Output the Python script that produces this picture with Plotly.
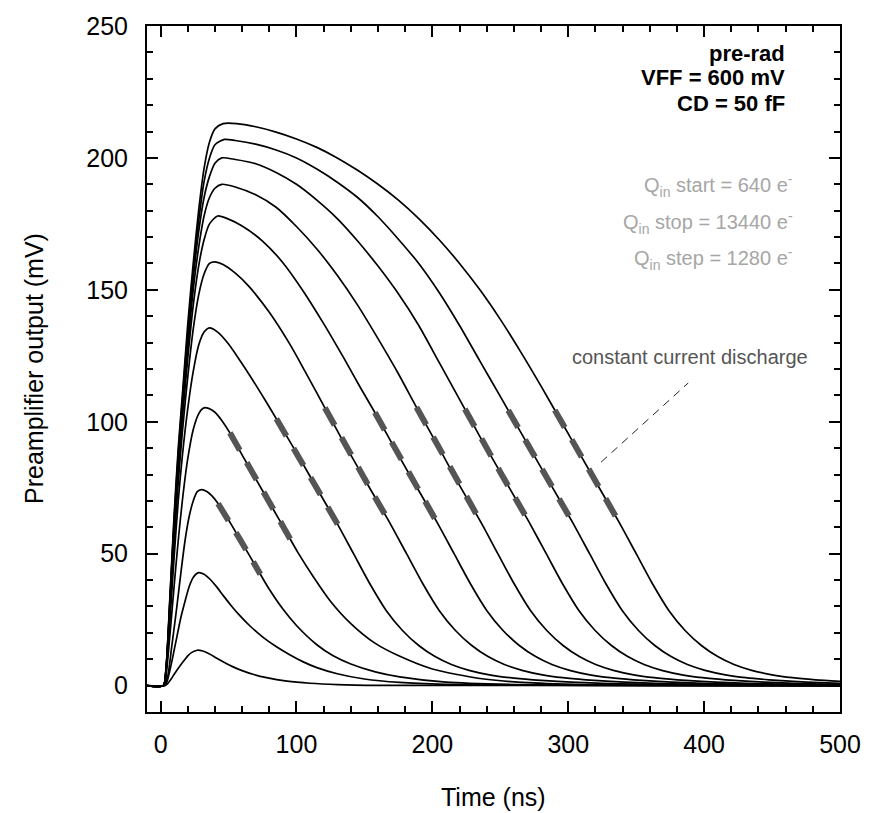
import numpy as np
import plotly.graph_objects as go

# Injected charge per curve (electrons)
charges = [640, 1920, 3200, 4480, 5760, 7040, 8320, 9600, 10880, 12160, 13440]

# Waveforms: time (ns) and preamplifier output (mV)
c1_t = [-10, 3, 5, 8, 10, 12, 15, 18, 20, 23, 27, 31, 36, 41, 47, 53, 60, 68, 78, 93, 110, 130, 160, 500]
c1_v = [0, 0, 0.7, 2.7, 4.3, 5.8, 8, 10, 11.3, 12.6, 13.4, 13.1, 12, 10.5, 8.8, 7.2, 5.7, 4.3, 3, 1.7, 0.9, 0.4, 0.1, 0]

c2_t = [-10, 3, 5, 8, 10, 12, 15, 18, 21, 24, 28, 32, 36, 41, 46, 52, 58, 66, 75, 85, 95, 105, 115, 130, 150, 176, 210, 260, 500]
c2_v = [0, 0, 2, 8.5, 13.5, 18.5, 26, 32, 37.5, 41, 42.8, 42.2, 40.5, 37.6, 34.2, 30.3, 26.7, 22.5, 18.5, 14.8, 11.7, 9, 6.8, 4.5, 2.5, 1.2, 0.5, 0.2, 0]

c3_t = [-10, 2, 5, 8, 10, 12, 15, 18, 21, 24, 27, 30, 34, 38, 42.3, 50, 58, 66, 73.4, 80, 90, 100, 115, 127, 140, 158, 176, 210, 260, 320, 500]
c3_v = [0, 0, 3, 14, 22, 30, 43, 55, 64, 70, 73.5, 74.3, 73.6, 71.8, 69, 62.8, 55.8, 48.8, 42.2, 36.5, 29, 22.8, 15.5, 11.3, 8.2, 5.2, 3.3, 1.3, 0.4, 0.1, 0]

c4_t = [-10, 2, 4, 7, 10, 13, 16, 20, 24, 28, 31, 34, 40, 45, 51, 61, 76, 88.9, 101, 113, 125, 140, 158, 176.5, 200, 235, 270, 320, 500]
c4_v = [0, 0, 4, 20, 38, 55, 70, 86, 97, 103, 105, 105.3, 103.6, 100.5, 95.8, 86.5, 73, 61.5, 50.5, 40.8, 32, 23.5, 16, 11, 6.3, 2.7, 1.1, 0.3, 0]

c5_t = [-10, 2, 4, 7, 10, 13, 16, 20, 24, 28, 32, 36, 42, 50, 60, 70, 78, 87, 102, 117, 129.9, 142, 154, 166, 178, 190, 202, 214, 227, 242, 257, 274, 292, 312, 337, 372, 412, 500]
c5_v = [0, 0, 5, 26, 49, 70, 87, 105, 119, 129, 134, 135.6, 134, 129.5, 122, 114, 107.3, 99.6, 86.5, 73, 61.5, 50, 38.6, 28.5, 20.9, 15.2, 11, 8, 5.8, 4.1, 3, 2.2, 1.6, 1.1, 0.7, 0.4, 0.2, 0]

c6_t = [-10, 2, 4, 7, 10, 13, 16, 20, 24, 28, 32, 36, 40, 46, 55, 65, 80, 95, 106.4, 120.9, 135, 141, 156, 168.9, 181, 193, 205, 217, 229, 241, 253, 266, 281, 296, 313, 331, 351, 376, 411, 451, 500]
c6_v = [0, 0, 5.5, 29, 55, 77, 96, 117, 135, 148, 156, 160, 160.6, 159.6, 156.3, 151.3, 141.5, 129.5, 119, 105.3, 91.9, 86.5, 73, 61.5, 50, 38.6, 28.5, 20.9, 15.2, 11, 8, 5.8, 4.1, 3, 2.2, 1.6, 1.1, 0.7, 0.4, 0.2, 0.1]

c7_t = [-10, 2, 4, 7, 10, 13, 16, 20, 24, 28, 32, 36, 42, 50, 60, 75, 90, 105, 120, 135, 147, 157.7, 176, 191, 203.9, 216, 228, 240, 252, 264, 276, 288, 301, 316, 331, 348, 366, 386, 411, 446, 486, 500]
c7_v = [0, 0, 5.8, 31, 58, 82, 101, 124, 144, 159, 169, 175, 178, 176.8, 174.2, 168.5, 160.3, 149.5, 137.2, 124, 113, 103.5, 86.5, 73, 61.5, 50, 38.6, 28.5, 20.9, 15.2, 11, 8, 5.8, 4.1, 3, 2.2, 1.6, 1.1, 0.7, 0.4, 0.2, 0.15]

c8_t = [-10, 2, 4, 7, 10, 13, 16, 20, 24, 28, 32, 36, 40, 45, 55, 70, 85, 100, 115, 130, 145, 160, 175, 188.3, 205, 220, 236.2, 248.2, 260.2, 272.2, 284.2, 296.2, 308.2, 320.2, 333.2, 348.2, 363.2, 380.2, 398.2, 418.2, 443.2, 478.2, 500]
c8_v = [0, 0, 6, 32, 60, 84, 104, 128, 150, 166, 178, 185, 188.5, 190, 189, 186, 181.3, 174, 165.5, 155.5, 144.2, 131.5, 118.2, 105.5, 90, 75.9, 61.5, 50, 38.6, 28.5, 20.9, 15.2, 11, 8, 5.8, 4.1, 3, 2.2, 1.6, 1.1, 0.7, 0.4, 0.3]

c9_t = [-10, 2, 4, 7, 10, 13, 16, 20, 24, 28, 32, 36, 40, 45, 55, 70, 85, 100, 115, 130, 145, 160, 175, 190, 205, 220, 235, 250, 265, 271.7, 283.8, 295.8, 307.8, 319.8, 331.8, 343.8, 355.8, 368.8, 383.8, 398.8, 415.8, 433.8, 453.8, 478.8, 500]
c9_v = [0, 0, 6.2, 33, 62, 86, 106, 131, 154, 172, 185, 193, 198, 200, 199.4, 197.8, 194.5, 190, 184, 177, 168.5, 159, 148.5, 136.5, 122.5, 108.5, 94.4, 80.9, 67.5, 61.5, 50, 38.6, 28.5, 20.9, 15.2, 11, 8, 5.8, 4.1, 3, 2.2, 1.6, 1.1, 0.7, 0.5]

c10_t = [-10, 2, 4, 7, 10, 13, 16, 20, 24, 28, 32, 36, 40, 47, 55, 70, 85, 100, 115, 130, 145, 160, 175, 190, 205, 220, 235, 250, 265, 280, 295, 303.6, 315.7, 327.7, 339.7, 351.7, 363.7, 375.7, 387.7, 400.7, 415.7, 430.7, 447.7, 465.7, 485.7, 500]
c10_v = [0, 0, 6.4, 34, 63, 88, 108, 134, 157, 176, 191, 200, 205, 207, 206.6, 205.2, 203, 200, 195.8, 190.8, 185, 177.7, 169.2, 160, 149, 136.5, 123, 109.6, 96.1, 82.6, 69.2, 61.5, 50, 38.6, 28.5, 20.9, 15.2, 11, 8, 5.8, 4.1, 3, 2.2, 1.6, 1.1, 0.85]

c11_t = [-10, 2, 4, 7, 10, 13, 16, 20, 24, 28, 32, 36, 40, 46, 56, 70, 85, 100, 115, 130, 145, 160, 175, 190, 205, 220, 235, 250, 265, 280, 295, 310, 325, 337.9, 350, 362, 374, 386, 398, 410, 422, 435, 450, 465, 482, 500]
c11_v = [0, 0, 6.5, 35, 65, 90, 110, 137, 160, 180, 196, 206, 211, 213, 213, 211.8, 209.8, 207.2, 204, 200, 195.3, 190, 184, 177, 169, 160, 150, 138.8, 126.5, 113.5, 100, 86.5, 73, 61.5, 50, 38.6, 28.5, 20.9, 15.2, 11, 8, 5.8, 4.1, 3, 2.2, 1.6]

curves_t = [c1_t, c2_t, c3_t, c4_t, c5_t, c6_t, c7_t, c8_t, c9_t, c10_t, c11_t]
curves_v = [c1_v, c2_v, c3_v, c4_v, c5_v, c6_v, c7_v, c8_v, c9_v, c10_v, c11_v]

# Constant-current discharge highlight: curve index and time span (ns)
ov_curve = [2, 3, 4, 5, 6, 7, 8, 9, 10]
ov_t0 = [42.3, 51, 85.2, 120.9, 157.7, 188.3, 223.9, 255.8, 290.1]
ov_t1 = [73.4, 97.5, 131.9, 168.7, 201.8, 236.2, 271.7, 303.6, 337.9]

# Pointer from label to the discharge slope
pointer_t = [324.2, 388.3]
pointer_v = [84.7, 114.7]

x_ticks = [0, 100, 200, 300, 400, 500]
y_ticks = [0, 50, 100, 150, 200, 250]

FONT = "Liberation Sans, Arial, Helvetica, sans-serif"

fig = go.Figure()

for t, v, q in zip(curves_t, curves_v, charges):
    fig.add_trace(go.Scatter(x=t, y=v, mode="lines", name=f"{q} e-",
                             line=dict(color="black", width=1.7, shape="spline", smoothing=0.7),
                             hoverinfo="skip"))

for ci, t0, t1 in zip(ov_curve, ov_t0, ov_t1):
    t = np.array(curves_t[ci], dtype=float)
    v = np.array(curves_v[ci], dtype=float)
    inside = (t > t0) & (t < t1)
    xs = [t0] + list(t[inside]) + [t1]
    ys = [float(np.interp(t0, t, v))] + list(v[inside]) + [float(np.interp(t1, t, v))]
    fig.add_trace(go.Scatter(x=xs, y=ys, mode="lines",
                             line=dict(color="#555555", width=6, dash="20px,14px"),
                             hoverinfo="skip"))

fig.add_trace(go.Scatter(x=pointer_t, y=pointer_v, mode="lines",
                         line=dict(color="#222222", width=1, dash="8px,6px"), hoverinfo="skip"))

axis_common = dict(
    ticks="inside", ticklen=11, tickwidth=1.5, tickcolor="black",
    showline=True, linewidth=2, linecolor="black", mirror="allticks",
    showgrid=False, zeroline=False,
    tickfont=dict(family=FONT, size=25, color="black"),
)

fig.update_xaxes(range=[-10, 500], tickvals=x_ticks, ticklabelstandoff=9,
                 minor=dict(ticks="inside", ticklen=6, tickwidth=1.5, tickcolor="black",
                            tick0=0, dtick=20, showgrid=False),
                 **axis_common)
fig.update_yaxes(range=[-10, 250], tickvals=y_ticks, ticklabelstandoff=12,
                 minor=dict(ticks="inside", ticklen=6, tickwidth=1.5, tickcolor="black",
                            tick0=0, dtick=10, showgrid=False),
                 **axis_common)

annotations = [
    dict(text="Time (ns)", xref="paper", yref="paper", x=0.5, y=0, yshift=-85,
         xanchor="center", yanchor="middle", showarrow=False,
         font=dict(family=FONT, size=25, color="black")),
    dict(text="Preamplifier output (mV)", xref="paper", yref="paper", x=0, y=0.5, xshift=-113,
         xanchor="center", yanchor="middle", textangle=-90, showarrow=False,
         font=dict(family=FONT, size=25, color="black")),
    dict(text="<b>pre-rad</b>", xref="x", yref="y", x=461, y=239.7, xanchor="right", yanchor="middle",
         showarrow=False, font=dict(family=FONT, size=22, color="black")),
    dict(text="<b>VFF = 600 mV</b>", xref="x", yref="y", x=461, y=230.3, xanchor="right", yanchor="middle",
         showarrow=False, font=dict(family=FONT, size=22, color="black")),
    dict(text="<b>CD = 50 fF</b>", xref="x", yref="y", x=461, y=220.7, xanchor="right", yanchor="middle",
         showarrow=False, font=dict(family=FONT, size=22, color="black")),
    dict(text="Q<sub>in</sub> start = 640 e<sup>-</sup>", xref="x", yref="y", x=467, y=189.5,
         xanchor="right", yanchor="middle", showarrow=False,
         font=dict(family=FONT, size=20, color="#a6a6a6")),
    dict(text="Q<sub>in</sub> stop = 13440 e<sup>-</sup>", xref="x", yref="y", x=467, y=175.7,
         xanchor="right", yanchor="middle", showarrow=False,
         font=dict(family=FONT, size=20, color="#a6a6a6")),
    dict(text="Q<sub>in</sub> step = 1280 e<sup>-</sup>", xref="x", yref="y", x=467, y=161.7,
         xanchor="right", yanchor="middle", showarrow=False,
         font=dict(family=FONT, size=20, color="#a6a6a6")),
    dict(text="constant current discharge", xref="x", yref="y", x=389.7, y=124.5,
         xanchor="center", yanchor="middle", showarrow=False,
         font=dict(family=FONT, size=20, color="#555555")),
]

fig.update_layout(
    width=884, height=813,
    margin=dict(l=147, r=44, t=19, b=101),
    plot_bgcolor="white", paper_bgcolor="white",
    showlegend=False,
    font=dict(family=FONT, size=25, color="black"),
    annotations=annotations,
)

fig.write_html("out.html")
